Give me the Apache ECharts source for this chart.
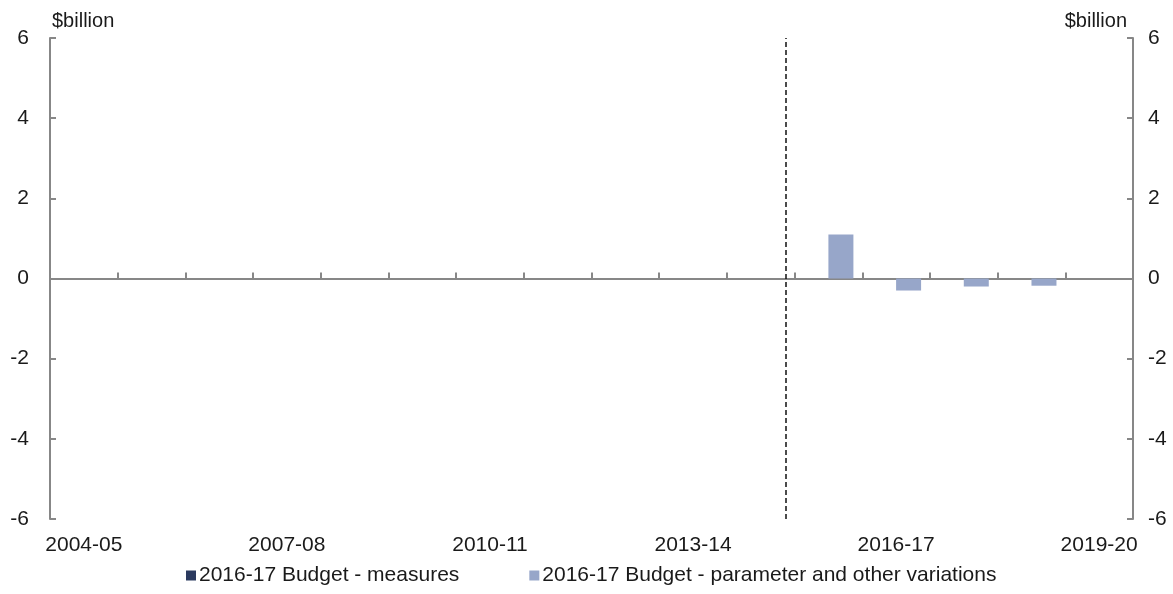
<!DOCTYPE html>
<html>
<head>
<meta charset="utf-8">
<script src="https://cdn.jsdelivr.net/npm/echarts@6/dist/echarts.min.js"></script>
<style>
  html, body { margin: 0; padding: 0; background: #fff; }
  #chart { width: 1173px; height: 594px; }
</style>
</head>
<body>
<div id="chart"></div>
<script>
// categories (financial years)
var years = ['2004-05','2005-06','2006-07','2007-08','2008-09','2009-10','2010-11','2011-12',
             '2012-13','2013-14','2014-15','2015-16','2016-17','2017-18','2018-19','2019-20'];
// 2016-17 Budget - measures ($billion)
var measures = [null,null,null,null,null,null,null,null,null,null,null,0,0,0,0,null];
// 2016-17 Budget - parameter and other variations ($billion)
var paramVariations = [null,null,null,null,null,null,null,null,null,null,null,1.1,-0.3,-0.2,-0.18,null];
// y tick range
var yMin = -6, yMax = 6, yStep = 2;
// position of the dashed divider, in category units from the left edge
var dividerAt = 10.87;

var axisGrey = '#878787';
var textCol = '#1a1a1a';
var font = 'Liberation Sans, Arial, sans-serif';

var myChart = echarts.init(document.getElementById('chart'));
var option = {
    animation: false,
    textStyle: { fontFamily: font },
    grid: {
        left: 50,
        right: 40,
        top: 38,
        bottom: 75
    },
    legend: {
        bottom: 3,
        left: 181,
        itemWidth: 10,
        itemHeight: 10,
        itemGap: 70,
        icon: 'rect',
        textStyle: { fontSize: 21, color: textCol, fontFamily: font, padding: [0, 0, 0, -2] },
        data: ['2016-17 Budget - measures', '2016-17 Budget - parameter and other variations']
    },
    xAxis: [{
        // axis on zero with ticks pointing up
        type: 'category',
        data: years,
        axisLine: { onZero: true, lineStyle: { color: axisGrey, width: 2 } },
        axisTick: { show: true, interval: 0, inside: true, length: 6, lineStyle: { color: axisGrey, width: 2 } },
        axisLabel: { show: false },
        splitLine: { show: false }
    }, {
        // label row at the bottom
        type: 'category',
        data: years,
        position: 'bottom',
        axisLine: { show: false, onZero: false },
        axisTick: { show: false },
        axisLabel: {
            interval: 2,
            margin: 16,
            fontSize: 21,
            color: textCol,
            fontFamily: font
        }
    }, {
        // hidden linear axis for the divider
        type: 'value',
        min: 0,
        max: years.length,
        show: false
    }],
    yAxis: [{
        type: 'value',
        min: yMin,
        max: yMax,
        interval: yStep,
        name: '$billion',
        nameLocation: 'end',
        nameGap: 7,
        nameTextStyle: { fontSize: 20, color: textCol, align: 'left', padding: [0, 0, 0, 2] },
        axisLine: { show: true, lineStyle: { color: axisGrey, width: 2 } },
        axisTick: { show: true, inside: true, length: 6, lineStyle: { color: axisGrey, width: 2 } },
        axisLabel: { margin: 21, fontSize: 21, color: textCol },
        splitLine: { show: false }
    }, {
        type: 'value',
        position: 'right',
        min: yMin,
        max: yMax,
        interval: yStep,
        name: '$billion',
        nameLocation: 'end',
        nameGap: 7,
        nameTextStyle: { fontSize: 20, color: textCol, align: 'right', padding: [0, 6, 0, 0] },
        axisLine: { show: true, lineStyle: { color: axisGrey, width: 2 } },
        axisTick: { show: true, inside: true, length: 6, lineStyle: { color: axisGrey, width: 2 } },
        axisLabel: { margin: 15, fontSize: 21, color: textCol },
        splitLine: { show: false }
    }],
    series: [{
        name: '2016-17 Budget - measures',
        type: 'bar',
        xAxisIndex: 0,
        barWidth: 25,
        barGap: '0%',
        itemStyle: { color: '#2b3a5f' },
        data: measures
    }, {
        name: '2016-17 Budget - parameter and other variations',
        type: 'bar',
        xAxisIndex: 0,
        barWidth: 25,
        barGap: '0%',
        itemStyle: { color: '#97a6c9' },
        data: paramVariations
    }, {
        name: 'divider',
        type: 'line',
        xAxisIndex: 2,
        yAxisIndex: 0,
        data: [],
        silent: true,
        markLine: {
            symbol: ['none', 'none'],
            silent: true,
            label: { show: false },
            lineStyle: { color: '#111', type: [5, 3], width: 1.5 },
            data: [{ xAxis: dividerAt }]
        }
    }]
};
myChart.setOption(option);
</script>
</body>
</html>
